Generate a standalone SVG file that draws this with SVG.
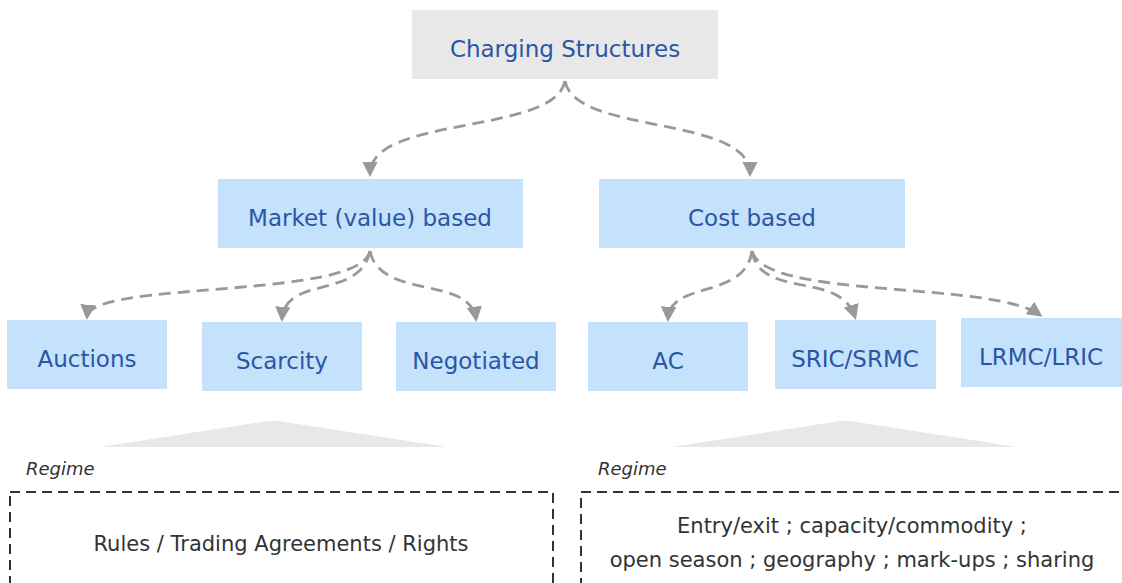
<svg xmlns="http://www.w3.org/2000/svg" width="1122" height="583" viewBox="0 0 1122 583">
<defs>
<marker id="ah" viewBox="0 0 10 10" refX="8" refY="5" markerWidth="5.5" markerHeight="5.5" orient="auto" markerUnits="strokeWidth">
<path d="M0,0 L10,5 L0,10 z" fill="#999"/>
</marker>
<style>
.top{fill:#e8e8e8}
.nb{fill:#c5e2fc}
.nt{font-family:"DejaVu Sans",Verdana,sans-serif;font-size:23px;fill:#2b55a5;text-anchor:middle}
.cn{fill:none;stroke:#999;stroke-width:2.8;stroke-dasharray:12,7;marker-end:url(#ah)}
.tri{fill:#e8e8e8}
.reg{font-family:"DejaVu Sans",Verdana,sans-serif;font-size:18px;font-style:italic;fill:#333}
.db{fill:none;stroke:#333;stroke-width:2;stroke-dasharray:10,6}
.bt{font-family:"DejaVu Sans",Verdana,sans-serif;font-size:21px;fill:#333;text-anchor:middle}
</style>
</defs>
<rect width="1122" height="583" fill="#fff"/>
<g id="connectors">
<path class="cn" d="M565,81 C555,135 370,115 370,174"/>
<path class="cn" d="M565,81 C575,135 750,115 750,174"/>
<path class="cn" d="M370,251 C360,300 90,280 87,317"/>
<path class="cn" d="M370,251 C360,300 285,275 282,319"/>
<path class="cn" d="M370,251 C380,300 470,275 476,319"/>
<path class="cn" d="M752,251 C745,300 670,280 668,319"/>
<path class="cn" d="M752,251 C760,300 840,270 855,317"/>
<path class="cn" d="M752,251 C765,300 990,280 1040,315"/>
</g>
<g id="charging-structures">
<rect class="top" x="412" y="10" width="306" height="69"/>
<text class="nt" x="565" y="57">Charging Structures</text>
</g>
<g id="market-based">
<rect class="nb" x="218" y="179" width="305" height="69"/>
<text class="nt" x="370" y="226">Market (value) based</text>
</g>
<g id="cost-based">
<rect class="nb" x="599" y="179" width="306" height="69"/>
<text class="nt" x="752" y="226">Cost based</text>
</g>
<g id="auctions">
<rect class="nb" x="7" y="320" width="160" height="69"/>
<text class="nt" x="87" y="367">Auctions</text>
</g>
<g id="scarcity">
<rect class="nb" x="202" y="322" width="160" height="69"/>
<text class="nt" x="282" y="369">Scarcity</text>
</g>
<g id="negotiated">
<rect class="nb" x="396" y="322" width="160" height="69"/>
<text class="nt" x="476" y="369">Negotiated</text>
</g>
<g id="ac">
<rect class="nb" x="588" y="322" width="160" height="69"/>
<text class="nt" x="668" y="369">AC</text>
</g>
<g id="sric-srmc">
<rect class="nb" x="775" y="320" width="161" height="69"/>
<text class="nt" x="855" y="367">SRIC/SRMC</text>
</g>
<g id="lrmc-lric">
<rect class="nb" x="961" y="318" width="161" height="69"/>
<text class="nt" x="1041" y="365">LRMC/LRIC</text>
</g>
<g id="regime-left">
<polygon class="tri" points="100,447 268,421 278,421 447,447"/>
<text class="reg" x="26" y="475">Regime</text>
<rect class="db" x="10" y="492" width="543" height="120"/>
<text class="bt" x="281" y="551">Rules / Trading Agreements / Rights</text>
</g>
<g id="regime-right">
<polygon class="tri" points="672,447 840,421 850,421 1017,447"/>
<text class="reg" x="598" y="475">Regime</text>
<rect class="db" x="581" y="492" width="560" height="120"/>
<text class="bt" x="852" y="533">Entry/exit ; capacity/commodity ;</text>
<text class="bt" x="852" y="567">open season ; geography ; mark-ups ; sharing</text>
</g>
</svg>
